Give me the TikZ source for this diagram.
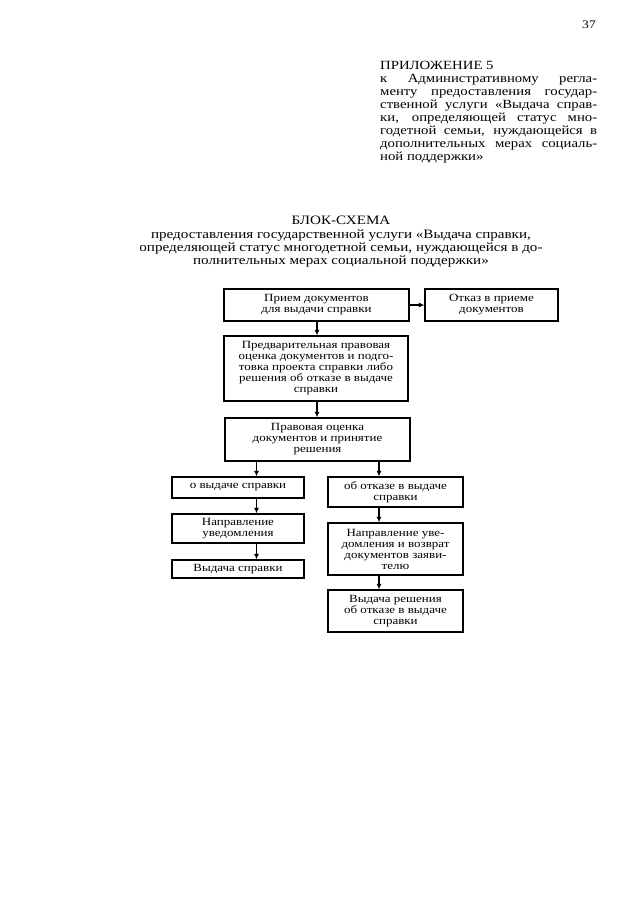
\documentclass[tikz,border=0pt]{standalone}
\usepackage{fontspec}
\setmainfont[FakeStretch=1.18]{Liberation Serif}
\usetikzlibrary{arrows.meta}
\begin{document}
\begin{tikzpicture}[x=1pt,y=-1pt,
  box/.style={draw,line width=1.2pt,inner sep=0pt,align=center,
    font=\fontsize{11}{11}\selectfont},
  arr/.style={line width=1.1pt,-{Latex[length=5.5pt,width=5pt]}}]
\useasboundingbox (0,0) rectangle (640,905);
% page number
\node[font=\fontsize{11.5}{13}\selectfont] (pn) at (589,25) {37};
% appendix block
\node[anchor=north west,inner sep=0pt,font=\fontsize{12.5}{13}\selectfont,align=left] (app) at (380,61) {%
ПРИЛОЖЕНИЕ 5\\
\makebox[217pt][s]{к Административному регла-}\\
\makebox[217pt][s]{менту предоставления государ-}\\
\makebox[217pt][s]{ственной услуги «Выдача справ-}\\
\makebox[217pt][s]{ки, определяющей статус мно-}\\
\makebox[217pt][s]{годетной семьи, нуждающейся в}\\
\makebox[217pt][s]{дополнительных мерах социаль-}\\
ной поддержки»};
% title
\node[anchor=north,inner sep=0pt,font=\fontsize{12.8}{13.4}\selectfont,align=center] (title) at (341,216) {%
БЛОК-СХЕМА\\
предоставления государственной услуги «Выдача справки,\\
определяющей статус многодетной семьи, нуждающейся в до-\\
полнительных мерах социальной поддержки»};
% boxes
\node[box,minimum width=185pt,minimum height=32pt] (b1) at (316.5,305) {Прием документов\\для выдачи справки};
\node[box,minimum width=133pt,minimum height=32pt] (otk) at (491.5,305) {Отказ в приеме\\документов};
\node[box,minimum width=184pt,minimum height=65pt] (b2) at (316,368.5) {Предварительная правовая\\оценка документов и подго-\\товка проекта справки либо\\решения об отказе в выдаче\\справки};
\node[box,minimum width=185pt,minimum height=43pt] (b3) at (317.5,439.5) {Правовая оценка\\документов и принятие\\решения};
\node[box,minimum width=132pt,minimum height=21pt] (l1) at (238,487.5) {о выдаче справки};
\node[box,minimum width=132pt,minimum height=29pt] (l2) at (238,528.5) {Направление\\уведомления};
\node[box,minimum width=132pt,minimum height=18pt] (l3) at (238,569) {Выдача справки};
\node[box,minimum width=135pt,minimum height=30pt] (r1) at (395.5,492) {об отказе в выдаче\\справки};
\node[box,minimum width=135pt,minimum height=52pt] (r2) at (395.5,549) {Направление уве-\\домления и возврат\\документов заяви-\\телю};
\node[box,minimum width=135pt,minimum height=42pt] (r3) at (395.5,611) {Выдача решения\\об отказе в выдаче\\справки};
% connectors
\coordinate (cm) at (317,0);
\coordinate (cl) at (256.5,0);
\coordinate (cr) at (379,0);
\draw[arr] (b1.east) -- (otk.west);
\draw[arr] (b1.south -| cm) -- (b2.north -| cm);
\draw[arr] (b2.south -| cm) -- (b3.north -| cm);
\draw[arr] (b3.south -| cl) -- (l1.north -| cl);
\draw[arr] (b3.south -| cr) -- (r1.north -| cr);
\draw[arr] (l1.south -| cl) -- (l2.north -| cl);
\draw[arr] (l2.south -| cl) -- (l3.north -| cl);
\draw[arr] (r1.south -| cr) -- (r2.north -| cr);
\draw[arr] (r2.south -| cr) -- (r3.north -| cr);
\end{tikzpicture}
\end{document}
